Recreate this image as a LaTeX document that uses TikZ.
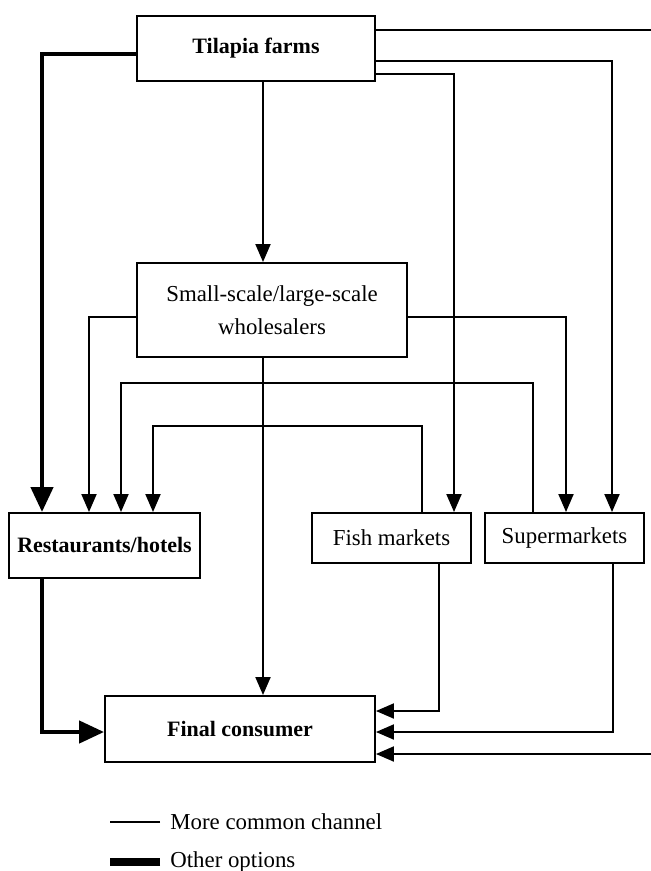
\documentclass[tikz,border=0pt]{standalone}
\usepackage{fontspec}
\setmainfont{Liberation Serif}
\usetikzlibrary{arrows.meta}

\begin{document}
\begin{tikzpicture}[x=0.02cm, y=-0.02cm,
  blk/.style={draw, rectangle, line width=1.1pt, inner sep=0pt, align=center,
              font=\fontsize{13}{19}\selectfont},
  bold/.style={blk, font=\fontsize{12.5}{18}\selectfont\bfseries},
  ann/.style={font=\fontsize{13}{19}\selectfont, inner sep=0pt},
  flow/.style={line width=1.1pt, -{Triangle[length=3.6mm, width=3mm]}},
  alt/.style={line width=2.5pt, -{Triangle[length=5mm, width=4.4mm]}}
]
\useasboundingbox (0,0) rectangle (650,871);

%% ── boxes ─────────────────────────────────────────────────────
\node[bold, minimum width=4.76cm, minimum height=1.3cm]  (farms) at (256,48.5)  {Tilapia farms};
\node[blk,  minimum width=5.4cm,  minimum height=1.88cm] (whole) at (272,310)   {Small-scale/large-scale\\wholesalers};
\node[bold, minimum width=3.82cm, minimum height=1.3cm]  (rest)  at (104.5,545.5) {Restaurants/hotels};
\node[blk,  minimum width=3.18cm, minimum height=1.0cm]  (fish)  at (391.5,538) {Fish markets};
\node[blk,  minimum width=3.18cm, minimum height=1.0cm]  (smkt)  at (564.5,538) {Supermarkets};
\node[bold, minimum width=5.4cm,  minimum height=1.32cm] (cons)  at (240,729)   {Final consumer};

%% ── from the farms ────────────────────────────────────────────
\draw[flow] (farms.south -| 263,0) -- (whole.north -| 263,0);
\draw[flow] (farms.east |- 0,30) -- (665,30) -- (665,754) -- (cons.east |- 0,754);
\draw[flow] (farms.east |- 0,61) -| (612,0 |- smkt.north);
\draw[flow] (farms.east |- 0,74) -| (454,0 |- fish.north);
\draw[alt]  (farms.west |- 0,54) -| (42,0 |- rest.north);

%% ── from the wholesalers ──────────────────────────────────────
\draw[flow] (whole.west |- 0,317) -| (89,0 |- rest.north);
\draw[flow] (whole.east |- 0,317) -| (566,0 |- smkt.north);
\draw[flow] (whole.south -| 263,0) -- (cons.north -| 263,0);

%% ── markets back to restaurants ───────────────────────────────
\draw[flow] (533,0 |- smkt.north) |- (121,383) -- (121,0 |- rest.north);
\draw[flow] (422,0 |- fish.north) |- (153,426) -- (153,0 |- rest.north);

%% ── to the consumer ───────────────────────────────────────────
\draw[alt]  (42,0 |- rest.south) |- (cons.west |- 0,732);
\draw[flow] (439,0 |- fish.south) |- (cons.east |- 0,711);
\draw[flow] (613,0 |- smkt.south) |- (cons.east |- 0,732);

%% ── legend ────────────────────────────────────────────────────
\node[ann, anchor=west] (lcom) at (170,822) {More common channel};
\node[ann, anchor=west] (loth) at (170,862) {Other options};
\draw[line width=1.1pt] ([xshift=-0.2cm]lcom.west) -- ++(-1cm,0);
\draw[line width=4.5pt] ([xshift=-0.2cm]loth.west) -- ++(-1cm,0);
\end{tikzpicture}
\end{document}
